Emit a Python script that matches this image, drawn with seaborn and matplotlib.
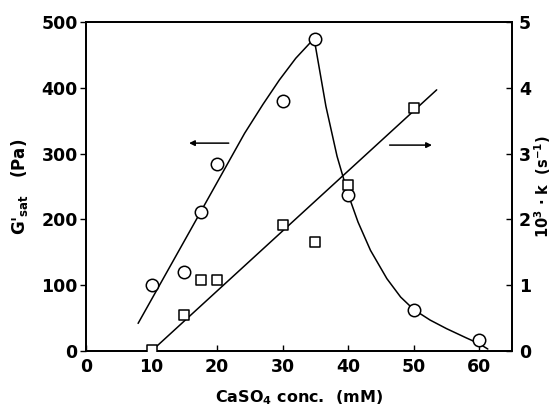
import matplotlib
matplotlib.use("Agg")
import matplotlib.pyplot as plt
import seaborn as sns

sns.set_theme(style="ticks")
plt.rcParams['font.family'] = ['DejaVu Sans']
plt.rcParams['font.weight'] = 'bold'
plt.rcParams['mathtext.fontset'] = 'dejavusans'
plt.rcParams['mathtext.default'] = 'bf'
plt.rcParams['text.color'] = 'black'
plt.rcParams['axes.labelcolor'] = 'black'

# Data: G'sat (Pa) - circles, left axis
conc_g = [10, 15, 17.5, 20, 30, 35, 40, 50, 60]
gsat = [100, 120, 212, 285, 380, 475, 237, 63, 17]

# Data: 10^3 k (s^-1) - squares, right axis
conc_k = [10, 15, 17.5, 20, 30, 35, 40, 50]
kval = [0.02, 0.55, 1.08, 1.08, 1.92, 1.65, 2.52, 3.70]

# Fitted curves
rise_x = [7.95, 16, 24.2, 27, 29.5, 32, 34.8]
rise_y = [42, 185, 331, 375, 412, 445, 475]
decay_x = [34.8, 36.6, 38.3, 40, 41.5, 43.4, 45.9, 48, 50, 52.5, 55, 58, 60, 61.3]
decay_y = [475, 372, 296, 238, 196, 153, 110, 82, 63, 47, 34, 20, 11, 3]
kfit_x = [10, 53.5]
kfit_y = [0.0, 3.97]

xticks = [0, 10, 20, 30, 40, 50, 60]
yticks_left = [0, 100, 200, 300, 400, 500]
yticks_right = [0, 1, 2, 3, 4, 5]

fig = plt.figure(figsize=(5.53, 4.09), dpi=100)
ax = fig.add_axes([0.1555, 0.1418, 0.7705, 0.8042])
ax2 = ax.twinx()

lw = 1.1
sns.lineplot(x=rise_x, y=rise_y, ax=ax, color='black', lw=lw, sort=False)
sns.lineplot(x=decay_x, y=decay_y, ax=ax, color='black', lw=lw, sort=False)
sns.scatterplot(x=conc_g, y=gsat, ax=ax, marker='o', s=80, facecolor='white',
                edgecolor='black', linewidth=1.1, zorder=5)

sns.lineplot(x=kfit_x, y=kfit_y, ax=ax2, color='black', lw=lw, sort=False)
sns.scatterplot(x=conc_k, y=kval, ax=ax2, marker='s', s=60, facecolor='white',
                edgecolor='black', linewidth=1.1, zorder=5)

ax.set_xlim(0, 65)
ax.set_ylim(0, 500)
ax2.set_ylim(0, 5)
ax.set_xticks(xticks)
ax.set_yticks(yticks_left)
ax2.set_yticks(yticks_right)

for a in (ax, ax2):
    for s in a.spines.values():
        s.set_visible(True)
        s.set_color('black')
        s.set_linewidth(1.3)

ax.tick_params(axis='x', direction='in', length=4, width=1, labelsize=12.5, pad=5, colors='black')
ax.tick_params(axis='y', direction='out', length=4, width=1, labelsize=12.5, pad=2, colors='black')
ax2.tick_params(axis='y', direction='in', length=4, width=1, labelsize=12.5, pad=5, colors='black')
for lab in ax.get_xticklabels() + ax.get_yticklabels() + ax2.get_yticklabels():
    lab.set_fontweight('bold')

ax.set_xlabel('CaSO$_4$ conc.  (mM)', fontsize=11.5, fontweight='bold', labelpad=9, color='black')
ax.set_ylabel("G'$_{sat}$   (Pa)", fontsize=12, fontweight='bold', labelpad=8, color='black')
ax2.set_ylabel('10$^3$ · k  (s$^{-1}$)', fontsize=10.5, fontweight='bold', labelpad=1, color='black')

# arrows
ax.annotate('', xy=(15.3, 316), xytext=(22.2, 316),
            arrowprops=dict(arrowstyle='-|>', color='black', lw=1.1, mutation_scale=8))
ax.annotate('', xy=(53.2, 313), xytext=(45.9, 313),
            arrowprops=dict(arrowstyle='-|>', color='black', lw=1.1, mutation_scale=8))

fig.savefig('out.png', dpi=100)
